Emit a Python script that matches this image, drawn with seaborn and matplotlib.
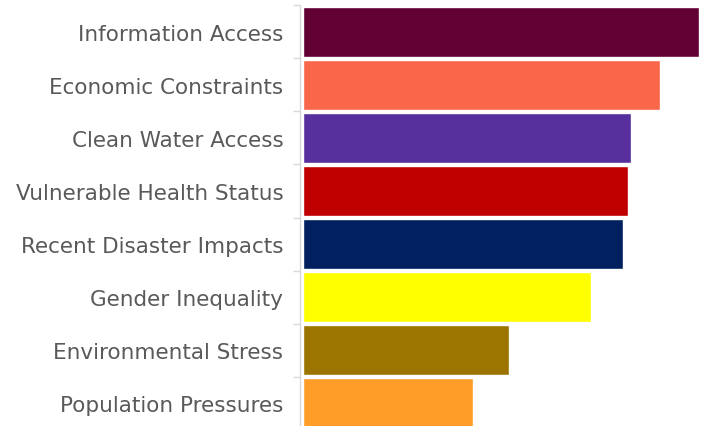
import numpy as np
import pandas as pd
import matplotlib
matplotlib.use('Agg')
import matplotlib.pyplot as plt
import seaborn as sns

factors = ['Information Access', 'Economic Constraints', 'Clean Water Access',
           'Vulnerable Health Status', 'Recent Disaster Impacts', 'Gender Inequality',
           'Environmental Stress', 'Population Pressures']
scores = [39.6, 35.7, 32.8, 32.5, 32.0, 28.8, 20.6, 17.0]
colors = ['#620033', '#FA6649', '#58309E', '#C00000', '#002060', '#FFFF00',
          '#9C7400', '#FF9D28']

df = pd.DataFrame({'factor': factors, 'score': scores})

sns.set_style('white')
fig = plt.figure(figsize=(7.03, 4.27), dpi=100)
ax = fig.add_axes([300 / 703, -4 / 427, 403 / 703, 425 / 427])

sns.barplot(data=df, x='score', y='factor', hue='factor', palette=colors,
            width=0.94, legend=False, ax=ax, saturation=1)

ax.set_xlim(-0.3, 40.0)
ax.set_ylim(len(factors) - 0.5, -0.5)
ax.set_xlabel('')
ax.set_ylabel('')
ax.set_xticks([])

for s in ['top', 'right', 'bottom']:
    ax.spines[s].set_visible(False)
ax.spines['left'].set_color('#D9D9D9')
ax.spines['left'].set_linewidth(1)

ax.set_yticks(np.arange(-0.5, len(factors), 1), minor=True)
ax.tick_params(axis='y', which='minor', length=5, color='#D9D9D9', width=1, left=True)
ax.tick_params(axis='y', which='major', length=0, pad=12, labelsize=15.5, labelcolor='#595959')

fig.savefig('out.png', dpi=100)
